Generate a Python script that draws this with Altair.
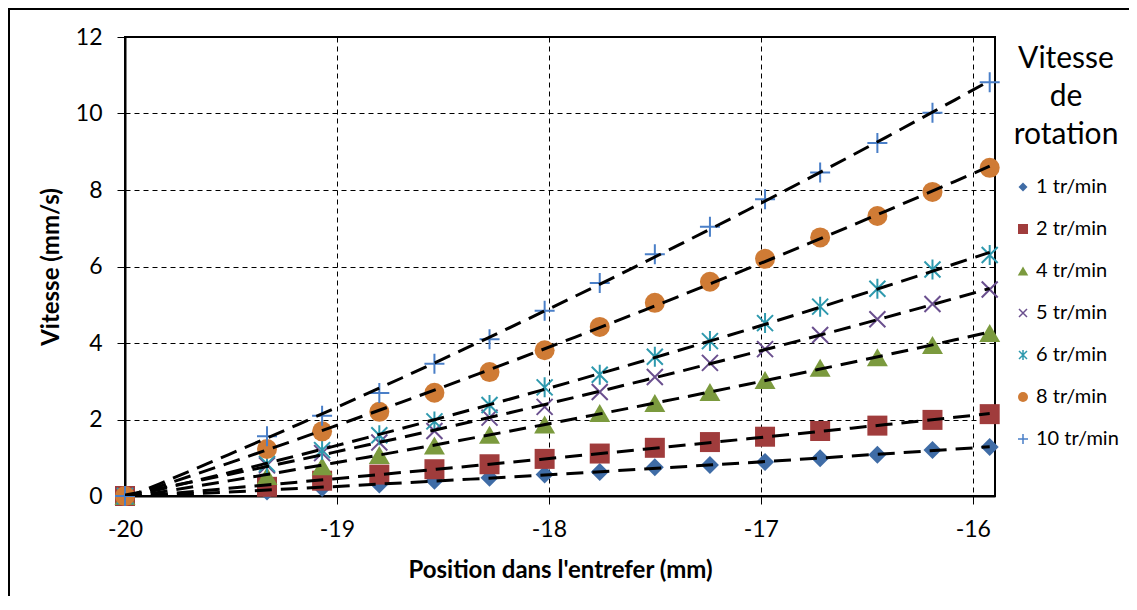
import altair as alt
import pandas as pd

positions = [-20, -19.33, -19.07, -18.80, -18.54, -18.28, -18.02, -17.76, -17.50,
             -17.24, -16.98, -16.72, -16.45, -16.19, -15.92]

series_names = ["1 tr/min", "2 tr/min", "4 tr/min", "5 tr/min", "6 tr/min", "8 tr/min", "10 tr/min"]

v1 = [0, 0.12, 0.21, 0.30, 0.40, 0.48, 0.56, 0.63, 0.75, 0.81, 0.89, 0.99, 1.08, 1.20, 1.28]
v2 = [0, 0.24, 0.40, 0.56, 0.70, 0.83, 0.97, 1.11, 1.26, 1.41, 1.55, 1.70, 1.84, 1.99, 2.14]
v4 = [0, 0.52, 0.78, 1.07, 1.32, 1.60, 1.87, 2.17, 2.43, 2.72, 3.03, 3.35, 3.63, 3.95, 4.26]
v5 = [0, 0.80, 1.12, 1.40, 1.70, 2.05, 2.33, 2.72, 3.11, 3.48, 3.84, 4.21, 4.62, 5.02, 5.40]
v6 = [0, 0.84, 1.20, 1.59, 1.95, 2.38, 2.84, 3.17, 3.64, 4.05, 4.52, 4.95, 5.42, 5.92, 6.30]
v8 = [0, 1.23, 1.69, 2.20, 2.70, 3.24, 3.81, 4.42, 5.05, 5.60, 6.20, 6.76, 7.32, 7.95, 8.58]
v10 = [0, 1.56, 2.10, 2.69, 3.46, 4.10, 4.84, 5.57, 6.32, 7.04, 7.76, 8.46, 9.23, 10.02, 10.82]

all_values = [v1, v2, v4, v5, v6, v8, v10]

x_ticks = [-20, -19, -18, -17, -16]
y_ticks = [0, 2, 4, 6, 8, 10, 12]

colors = ["#3F6CA6", "#A03C3C", "#7B9A3E", "#6A4F8E", "#2E99AE", "#CF7B35", "#4A7FC8"]
shapes = [
    "M-0.9,0L0,-0.9L0.9,0L0,0.9Z",
    "M-1,-1L1,-1L1,1L-1,1Z",
    "M0,-0.9L1.05,0.9L-1.05,0.9Z",
    "M-0.8,-0.8L0.8,0.8M-0.8,0.8L0.8,-0.8",
    "M-0.8,-0.8L0.8,0.8M-0.8,0.8L0.8,-0.8M0,-1L0,1",
    "circle",
    "M-1,0L1,0M0,-1L0,1",
]
filled = [True, True, True, False, False, True, False]
fill_range = [c if f else "transparent" for c, f in zip(colors, filled)]
stroke_range = ["transparent" if f else c for c, f in zip(colors, filled)]

rows = []
for name, vals in zip(series_names, all_values):
    for xv, yv in zip(positions, vals):
        rows.append({"pos": xv, "v": yv, "serie": name})
df = pd.DataFrame(rows)

FONT = "Lato"
legend_title = ["Vitesse", "de", "rotation"]

xscale = alt.Scale(domain=[-20, -15.895], nice=False, zero=False)
yscale = alt.Scale(domain=[0, 12], nice=False)

base = alt.Chart(df)

points = base.mark_point(filled=True, opacity=1, strokeWidth=2).encode(
    x=alt.X("pos:Q", scale=xscale,
            axis=alt.Axis(values=x_ticks, title="Position dans l'entrefer (mm)",
                          labelExpr="toString(datum.value)",
                          labelFlush=False, labelPadding=14, titlePadding=17)),
    y=alt.Y("v:Q", scale=yscale,
            axis=alt.Axis(values=y_ticks, title="Vitesse (mm/s)",
                          labelPadding=15, titlePadding=12)),
    shape=alt.Shape("serie:N", scale=alt.Scale(domain=series_names, range=shapes),
                    legend=alt.Legend(title=legend_title)),
    fill=alt.Fill("serie:N", scale=alt.Scale(domain=series_names, range=fill_range),
                  legend=alt.Legend(title=legend_title)),
    stroke=alt.Stroke("serie:N", scale=alt.Scale(domain=series_names, range=stroke_range),
                      legend=alt.Legend(title=legend_title)),
    size=alt.value(400),
)

trend = base.transform_regression(
    "pos", "v", groupby=["serie"], extent=[-20, -15.92], method="poly", order=2
).mark_line(color="black", strokeWidth=3, strokeDash=[17, 9], clip=True).encode(
    x=alt.X("pos:Q", scale=xscale),
    y=alt.Y("v:Q", scale=yscale),
    detail="serie:N",
)

frame = alt.Chart(alt.Data(values=[{"k": 1}])).mark_rect(
    fill="transparent", stroke="black", strokeWidth=2
).encode(
    x=alt.value(-116), x2=alt.value(1200), y=alt.value(-28), y2=alt.value(800)
)

chart = alt.layer(frame, points, trend).properties(
    width=870, height=459,
    autosize=alt.AutoSizeParams(type="none"),
    padding={"left": 117, "top": 29, "right": 134, "bottom": 100},
).configure_view(
    stroke="black", strokeWidth=2
).configure_axis(
    labelFont=FONT, titleFont=FONT, labelFontSize=23, titleFontSize=24,
    labelColor="black", titleColor="black", titleFontWeight="bold",
    domainColor="black", domainWidth=2, tickColor="black", tickSize=8, tickWidth=1,
    gridColor="black", gridDash=[5, 4], gridWidth=1, gridOpacity=1,
).configure_legend(
    orient="none", legendX=888, legendY=7,
    titleFont=FONT, titleFontSize=30, titleFontWeight="normal", titleColor="black",
    titleAlign="center", titleAnchor="middle", titleLineHeight=38, titlePadding=27,
    labelFont=FONT, labelFontSize=20, labelColor="black",
    symbolSize=100, symbolStrokeWidth=1.5, rowPadding=22, labelOffset=3,
)

chart.save("out.html", embed_options={"renderer": "svg", "actions": False})
